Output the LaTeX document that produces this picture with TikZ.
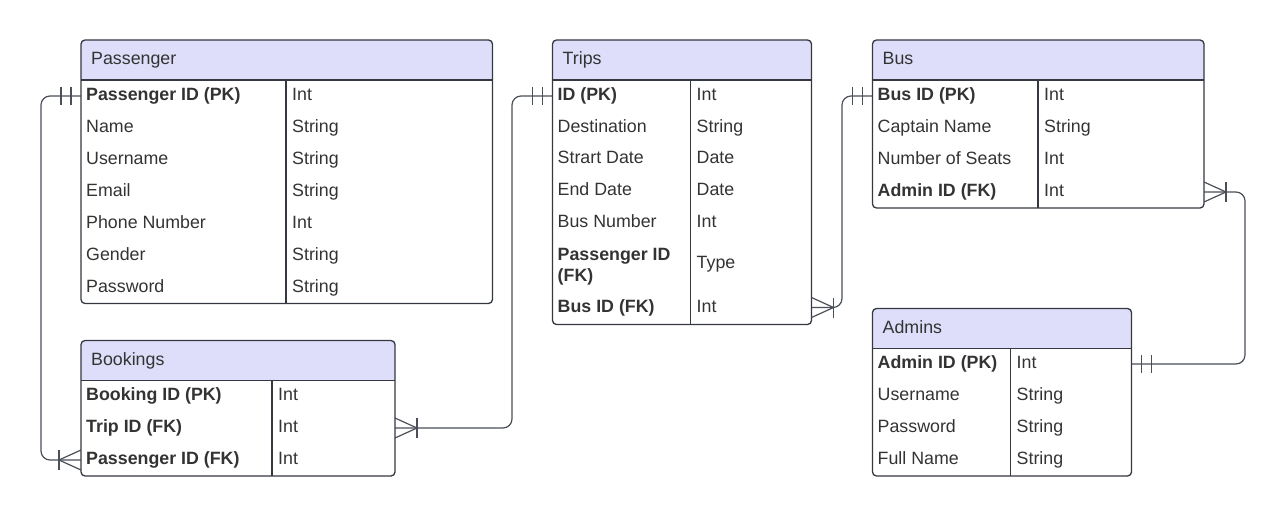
\documentclass[tikz,border=0pt]{standalone}
\usepackage{fontspec}
\setmainfont{Liberation Sans}
\usetikzlibrary{calc}
\definecolor{hdrc}{HTML}{DEDEFA}
\definecolor{linec}{HTML}{343841}
\definecolor{connc}{HTML}{4A4F58}
\definecolor{txtc}{HTML}{333333}
\newcommand\erbox[8]{%
  \fill[hdrc] (#2,#6) [rounded corners=4pt] -- (#2,#3) -- (#4,#3) [sharp corners] -- (#4,#6) -- cycle;
  \node[tbl, anchor=north west, minimum width={(#4-#2)*1pt}, minimum height={(#5-#3)*1pt}] (#1) at (#2,#3) {};
  \draw[tline] (#2,#6) -- (#4,#6);
  \draw[tline] (#7,#6) -- (#7,#5);
  \node[fld] (#1-title) at (#2+10,{(#3+#6)/2+4.6}) {#8};
}
\newcommand\erow[6]{%
  \node[fld] (#1k) at (#2+5,#4+4.6) {#5};
  \node[fld] (#1v) at (#3+6,#4+4.6) {#6};
}
\newcommand\onebarsL[1]{%
  \draw[conn] ($(#1)+(-10,-9)$) -- ++(0,18);
  \draw[conn] ($(#1)+(-20,-9)$) -- ++(0,18);
}
\newcommand\onebarsR[1]{%
  \draw[conn] ($(#1)+(10,-9)$) -- ++(0,18);
  \draw[conn] ($(#1)+(20,-9)$) -- ++(0,18);
}
\newcommand\crowL[1]{%
  \draw[conn] ($(#1)+(0,-10)$) -- ($(#1)+(-22,0)$) -- ($(#1)+(0,10)$);
  \draw[conn] ($(#1)+(-22,-10)$) -- ++(0,20);
}
\newcommand\crowR[1]{%
  \draw[conn] ($(#1)+(0,-10)$) -- ($(#1)+(22,0)$) -- ($(#1)+(0,10)$);
  \draw[conn] ($(#1)+(22,-10)$) -- ++(0,20);
}
\tikzset{
  tbl/.style={draw=linec, line width=1.3pt, rounded corners=4pt, inner sep=0pt, outer sep=0pt},
  tline/.style={draw=linec, line width=1.3pt},
  fld/.style={anchor=base west, inner sep=0pt, text=txtc, font=\fontsize{17.8}{21}\selectfont},
  conn/.style={draw=connc, line width=1.2pt},
  route/.style={conn, rounded corners=9pt},
}
\begin{document}
\begin{tikzpicture}[x=1pt,y=-1pt]
\useasboundingbox (0,0) rectangle (1285,516);
% Passenger
\erbox{pas}{81}{40}{492.5}{303.5}{80}{286}{Passenger}
\erow{pasA}{81}{286}{96}{\textbf{Passenger ID (PK)}}{Int}
\erow{pasB}{81}{286}{128}{Name}{String}
\erow{pasC}{81}{286}{160}{Username}{String}
\erow{pasD}{81}{286}{191.5}{Email}{String}
\erow{pasE}{81}{286}{223.5}{Phone Number}{Int}
\erow{pasF}{81}{286}{255.5}{Gender}{String}
\erow{pasG}{81}{286}{287.5}{Password}{String}
% Bookings
\erbox{bk}{81}{340.5}{395}{476}{380.5}{272}{Bookings}
\erow{bkA}{81}{272}{396}{\textbf{Booking ID (PK)}}{Int}
\erow{bkB}{81}{272}{428}{\textbf{Trip ID (FK)}}{Int}
\erow{bkC}{81}{272}{460}{\textbf{Passenger ID (FK)}}{Int}
% Trips
\erbox{tr}{552.5}{40}{811.5}{324.5}{80}{690.5}{Trips}
\erow{trA}{552.5}{690.5}{96}{\textbf{ID (PK)}}{Int}
\erow{trB}{552.5}{690.5}{127.5}{Destination}{String}
\erow{trC}{552.5}{690.5}{159}{Strart Date}{Date}
\erow{trD}{552.5}{690.5}{191}{End Date}{Date}
\erow{trE}{552.5}{690.5}{223}{Bus Number}{Int}
\node[fld, anchor=west, align=left] (trFk) at (557.5,266.3) {\textbf{Passenger ID}\\\textbf{(FK)}};
\node[fld] (trFv) at (696.5,268.8) {Type};
\erow{trG}{552.5}{690.5}{307.5}{\textbf{Bus ID (FK)}}{Int}
% Bus
\erbox{bus}{872.5}{40}{1204}{208}{80}{1038}{Bus}
\erow{busA}{872.5}{1038}{96}{\textbf{Bus ID (PK)}}{Int}
\erow{busB}{872.5}{1038}{128}{Captain Name}{String}
\erow{busC}{872.5}{1038}{160}{Number of Seats}{Int}
\erow{busD}{872.5}{1038}{192}{\textbf{Admin ID (FK)}}{Int}
% Admins
\erbox{ad}{872.5}{308.5}{1131.5}{476}{348.5}{1010.5}{Admins}
\erow{adA}{872.5}{1010.5}{364}{\textbf{Admin ID (PK)}}{Int}
\erow{adB}{872.5}{1010.5}{396}{Username}{String}
\erow{adC}{872.5}{1010.5}{428}{Password}{String}
\erow{adD}{872.5}{1010.5}{460}{Full Name}{String}
% connector end points
\coordinate (pasPK) at (81,96);
\coordinate (bkPFK) at (81,460);
\coordinate (trID) at (552.5,96);
\coordinate (bkTID) at (395,428);
\coordinate (busID) at (872.5,96);
\coordinate (trBID) at (811.5,307.5);
\coordinate (adID) at (1131.5,364);
\coordinate (busAID) at (1204,192);
% connectors
\draw[route] (pasPK) -- ++(-40,0) |- (bkPFK);
\onebarsL{pasPK}
\crowL{bkPFK}
\draw[route] (trID) -- ++(-40.5,0) |- (bkTID);
\onebarsL{trID}
\crowR{bkTID}
\draw[route] (busID) -- ++(-30.5,0) |- (trBID);
\onebarsL{busID}
\crowR{trBID}
\draw[route] (adID) -- ++(113.5,0) |- (busAID);
\onebarsR{adID}
\crowR{busAID}
\end{tikzpicture}
\end{document}
